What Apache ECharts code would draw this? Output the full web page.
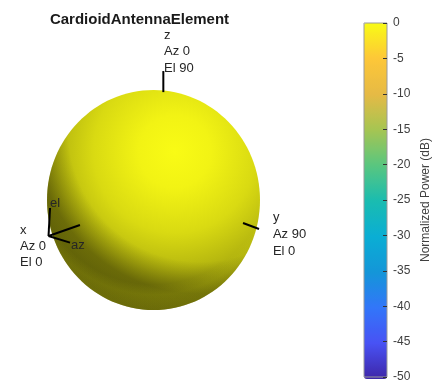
<!DOCTYPE html>
<html>
<head>
<meta charset="utf-8">
<title>CardioidAntennaElement</title>
<script src="https://cdn.jsdelivr.net/npm/echarts@6/dist/echarts.min.js"></script>
<style>
  html, body { margin: 0; padding: 0; background: #ffffff; }
  #chart { width: 436px; height: 383px; }
</style>
</head>
<body>
<div id="chart"></div>
<script>
// Normalized power range of the pattern (dB) and colorbar tick step
const powerRange = [-50, 0];
const tickStep = 5;

// Parula colormap stops, low to high
const parula = ['#3E26A8', '#4852F4', '#3276F9', '#1496D8', '#0AAED4', '#1ABCB0',
                '#59C67F', '#A6C552', '#E6BA45', '#FDC738', '#F9FB15'];

// Projected pattern body in scene units: centre x, centre y, semi-axis x, semi-axis y, power (dB)
const patternBody = [[0, 0, 0.986, 1.019, 0]];

// Axis stubs where the z and y axes leave the surface: x1, y1, x2, y2
const axisStubs = [
  [0.091, 1.194, 0.091, 0.999],
  [0.829, -0.213, 0.977, -0.269]
];

// Local az/el triad at the x axis point: x1, y1, x2, y2
const triad = [
  [-0.972, -0.333, -0.958, -0.074],
  [-0.972, -0.333, -0.773, -0.395],
  [-0.972, -0.333, -0.681, -0.231]
];

// Direction annotations: x, y, text
const annotations = [
  [0.097, 1.528, 'z'], [0.097, 1.375, 'Az 0'], [0.097, 1.222, 'El 90'],
  [1.106, -0.157, 'y'], [1.106, -0.315, 'Az 90'], [1.106, -0.472, 'El 0'],
  [-1.236, -0.278, 'x'], [-1.236, -0.426, 'Az 0'], [-1.236, -0.574, 'El 0'],
  [-0.958, -0.028, 'el'], [-0.764, -0.417, 'az']
];

const FONT = '"Liberation Sans", Arial, Helvetica, sans-serif';

function shade(color, k) {
  const c = echarts.color.parse(color);
  return 'rgb(' + Math.round(c[0] * k) + ',' + Math.round(c[1] * k) + ',' + Math.round(c[2] * k) + ')';
}

function tint(color, a) {
  const c = echarts.color.parse(color);
  return 'rgba(' + c[0] + ',' + c[1] + ',' + c[2] + ',' + a + ')';
}

function renderBody(params, api) {
  const c = api.coord([api.value(0), api.value(1)]);
  const e = api.coord([api.value(0) + api.value(2), api.value(1) + api.value(3)]);
  const rx = e[0] - c[0];
  const ry = c[1] - e[1];
  const base = api.visual('color');
  // diffuse light from the upper right
  const light = new echarts.graphic.RadialGradient(0.6, 0.28, 0.85, [
    { offset: 0.0, color: shade(base, 1.0) },
    { offset: 0.2, color: shade(base, 0.97) },
    { offset: 0.45, color: shade(base, 0.87) },
    { offset: 0.65, color: shade(base, 0.73) },
    { offset: 0.8, color: shade(base, 0.6) },
    { offset: 0.9, color: shade(base, 0.5) },
    { offset: 1.0, color: shade(base, 0.46) }
  ]);
  // curved self-shadow band towards the lower left
  const shadow = new echarts.graphic.RadialGradient(0.72, 0.18, 0.94, [
    { offset: 0.0, color: 'rgba(20,18,0,0)' },
    { offset: 0.66, color: 'rgba(20,18,0,0)' },
    { offset: 0.82, color: 'rgba(20,18,0,0.4)' },
    { offset: 0.95, color: 'rgba(20,18,0,0.38)' },
    { offset: 1.0, color: 'rgba(20,18,0,0.26)' }
  ]);
  // faint bounce light along the lower rim
  const rim = new echarts.graphic.RadialGradient(0.5, 0.35, 0.6, [
    { offset: 0.0, color: tint(base, 0) },
    { offset: 0.92, color: tint(base, 0) },
    { offset: 1.0, color: tint(base, 0.12) }
  ]);
  const shape = { cx: c[0], cy: c[1], rx: rx, ry: ry };
  return {
    type: 'group',
    children: [
      { type: 'ellipse', shape: shape, style: { fill: light } },
      { type: 'ellipse', shape: shape, style: { fill: shadow } },
      { type: 'ellipse', shape: shape, style: { fill: rim } }
    ]
  };
}

function renderSegment(params, api) {
  const a = api.coord([api.value(0), api.value(1)]);
  const b = api.coord([api.value(2), api.value(3)]);
  return {
    type: 'line',
    shape: { x1: a[0], y1: a[1], x2: b[0], y2: b[1] },
    style: { stroke: '#000000', lineWidth: 2 }
  };
}

function renderAnnotation(params, api) {
  const p = api.coord([api.value(0), api.value(1)]);
  return {
    type: 'text',
    x: p[0], y: p[1],
    style: {
      text: annotations[params.dataIndex][2],
      fill: '#262626',
      font: '13px ' + FONT,
      textAlign: 'left',
      textVerticalAlign: 'middle'
    }
  };
}

const chart = echarts.init(document.getElementById('chart'), null, { renderer: 'canvas' });

chart.setOption({
  animation: false,
  backgroundColor: '#ffffff',
  title: {
    text: 'CardioidAntennaElement',
    left: 134.5,
    top: 7,
    textAlign: 'center',
    textStyle: { fontFamily: FONT, fontSize: 15, fontWeight: 'bold', color: '#1a1a1a' }
  },
  grid: [
    { left: 2.3, top: 27.2, width: 302.4, height: 345.6 },
    { left: 364, top: 23, width: 23, height: 356, show: true, borderColor: '#9a9a9a',
      borderWidth: 1, backgroundColor: 'transparent', z: 10 }
  ],
  xAxis: [
    { gridIndex: 0, type: 'value', min: -1.4, max: 1.4, show: false },
    { gridIndex: 1, type: 'value', min: 0, max: 1, show: false }
  ],
  yAxis: [
    { gridIndex: 0, type: 'value', min: -1.6, max: 1.6, show: false },
    {
      gridIndex: 1, type: 'value', position: 'right',
      min: powerRange[0], max: powerRange[1], interval: tickStep,
      z: 10,
      axisLine: { show: false, onZero: false },
      axisTick: { show: true, inside: true, length: 4, lineStyle: { color: '#333333' } },
      splitLine: { show: false },
      axisLabel: { margin: 6, color: '#404040', fontSize: 12, fontFamily: FONT },
      name: 'Normalized Power (dB)',
      nameLocation: 'middle',
      nameRotate: 90,
      nameGap: 33,
      nameTextStyle: { color: '#404040', fontSize: 12, fontFamily: FONT }
    }
  ],
  visualMap: {
    type: 'continuous',
    min: powerRange[0],
    max: powerRange[1],
    dimension: 4,
    seriesIndex: 0,
    orient: 'vertical',
    left: 364,
    top: 23,
    padding: 0,
    itemWidth: 23,
    itemHeight: 356,
    calculable: false,
    hoverLink: false,
    text: null,
    inRange: { color: parula }
  },
  series: [
    {
      type: 'custom',
      xAxisIndex: 0, yAxisIndex: 0,
      renderItem: renderBody,
      data: patternBody,
      z: 2
    },
    {
      type: 'custom',
      xAxisIndex: 0, yAxisIndex: 0,
      renderItem: renderSegment,
      data: axisStubs.concat(triad),
      z: 3
    },
    {
      type: 'custom',
      xAxisIndex: 0, yAxisIndex: 0,
      renderItem: renderAnnotation,
      data: annotations.map(function (d) { return [d[0], d[1]]; }),
      z: 4
    }
  ]
});
</script>
</body>
</html>
